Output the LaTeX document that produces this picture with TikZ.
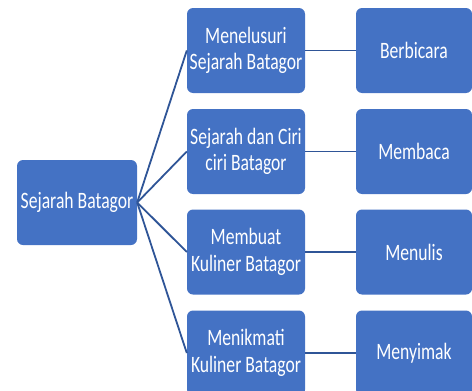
\documentclass[tikz,border=0pt]{standalone}
\usepackage{fontspec}
\newfontfamily\boxfont[FakeStretch=0.75]{Carlito}
\definecolor{boxblue}{RGB}{68,114,196}
\definecolor{lineblue}{RGB}{47,85,151}

\begin{document}
\begin{tikzpicture}[x=1pt, y=-1pt,
	box/.style={fill=boxblue, rounded corners=6pt, minimum width=118pt, minimum height=85pt, inner sep=0pt, align=center, text=white, font=\boxfont\fontsize{23.5}{26.5}\selectfont},
	link/.style={draw=lineblue, line width=1.8pt}]

\useasboundingbox (0,0) rectangle (472,391);

\node[box, minimum width=120pt] (root) at (77,202.5) {Sejarah Batagor};

\foreach \y/\n/\topic/\skill in {50.5/1/{Menelusuri\\Sejarah Batagor}/Berbicara, 151.5/2/{Sejarah dan Ciri\\ciri Batagor}/Membaca, 252/3/{Membuat\\Kuliner Batagor}/Menulis, 353/4/{Menikmati\\Kuliner Batagor}/Menyimak}
{
	\node[box] (topic\n) at (246,\y) {\topic};
	\node[box, minimum width=116pt] (skill\n) at (414,\y) {\skill};
	\draw[link] (root.east) -- (topic\n.west);
	\draw[link] (topic\n.east) -- (skill\n.west);
}

\end{tikzpicture}
\end{document}
